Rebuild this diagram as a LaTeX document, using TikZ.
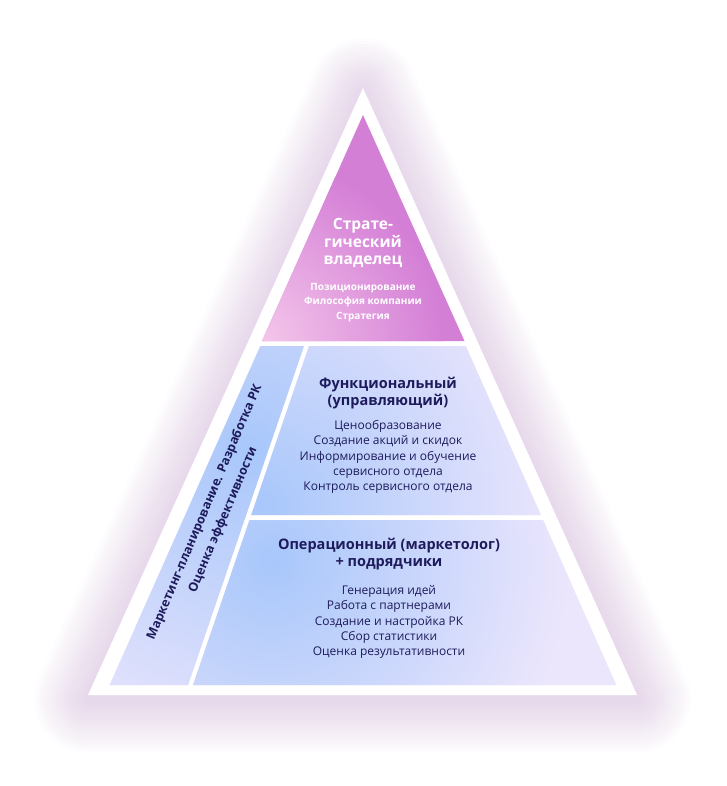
\documentclass[tikz,border=0pt]{standalone}
\usepackage{fontspec}
\setmainfont{Open Sans}
\usetikzlibrary{positioning}

\definecolor{navy}{HTML}{1E1B5C}
\definecolor{orchid}{HTML}{D47FD6}
\definecolor{pinklight}{HTML}{F4C6EA}
\definecolor{lavender}{HTML}{ECE6FC}
\definecolor{bluehi}{HTML}{A8C7FB}
\definecolor{glow}{HTML}{B890C4}

\tikzset{
  title/.style={font=\bfseries\fontsize{14.5}{17.5}\selectfont, text=navy, align=center, inner sep=0pt},
  item/.style={font=\fontsize{12}{15.2}\selectfont, text=navy, align=center, inner sep=0pt},
  toptitle/.style={title, font=\bfseries\fontsize{15.5}{17.5}\selectfont, text=white},
  topitem/.style={font=\bfseries\fontsize{10}{14.5}\selectfont, text=white, align=center, inner sep=0pt},
}

\begin{document}
\begin{tikzpicture}[x=1pt,y=-1pt]
\useasboundingbox (0,0) rectangle (726,786);

% outer white triangle + glow
\coordinate (top) at (363,88);
\coordinate (bl) at (88,695);
\coordinate (br) at (637,695);
\foreach \w in {6,12,...,108}
  \draw[glow, line width=\w pt, opacity=0.022, line join=round] ([yshift=-4pt]top) -- ([yshift=-4pt]bl) -- ([yshift=-4pt]br) -- cycle;
\fill[white] (top) -- (bl) -- (br) -- cycle;

% Strategic level
\begin{scope}
\clip (363,115) -- (262,341) -- (464.5,341) -- cycle;
\fill[orchid] (250,100) rectangle (480,345);
\shade[inner color=pinklight, outer color=orchid] (262,341) circle (180);
\end{scope}

% side column
\begin{scope}
\clip (260.3,346) -- (304,346) -- (188,685) -- (109.7,685) -- cycle;
\fill[lavender] (100,340) rectangle (320,690);
\shade[inner color=bluehi, outer color=lavender] (250,450) circle (330);
\end{scope}

% Functional level
\begin{scope}
\clip (309,346) -- (465.7,346) -- (540.8,515) -- (251.2,515) -- cycle;
\fill[lavender] (240,340) rectangle (550,520);
\shade[inner color=bluehi, outer color=lavender] (262,505) circle (300);
\end{scope}

% Operational level
\begin{scope}
\clip (249.5,520) -- (543,520) -- (616.3,685) -- (193,685) -- cycle;
\fill[lavender] (185,515) rectangle (625,690);
\shade[inner color=bluehi, outer color=lavender] (272,560) circle (300);
\end{scope}

% texts
\node[toptitle] (strat) at (363,243) {Страте-\\гический\\владелец};
\node[topitem, below=15pt of strat] (stratitems) {Позиционирование\\Философия компании\\Стратегия};

\node[title] (func) at (388,393) {Функциональный\\(управляющий)};
\node[item, below=11pt of func] (funcitems) {Ценообразование\\Создание акций и скидок\\Информирование и обучение\\сервисного отдела\\Контроль сервисного отдела};

\node[title] (oper) at (389,554) {Операционный (маркетолог)\\+ подрядчики};
\node[item, below=15pt of oper] (operitems) {Генерация идей\\Работа с партнерами\\Создание и настройка РК\\Сбор статистики\\Оценка результативности};

\node[title, font=\bfseries\fontsize{12.5}{20}\selectfont, rotate=67] (side) at (214,516) {Маркетинг-планирование. Разработка РК\\Оценка эффективности};

\end{tikzpicture}
\end{document}
